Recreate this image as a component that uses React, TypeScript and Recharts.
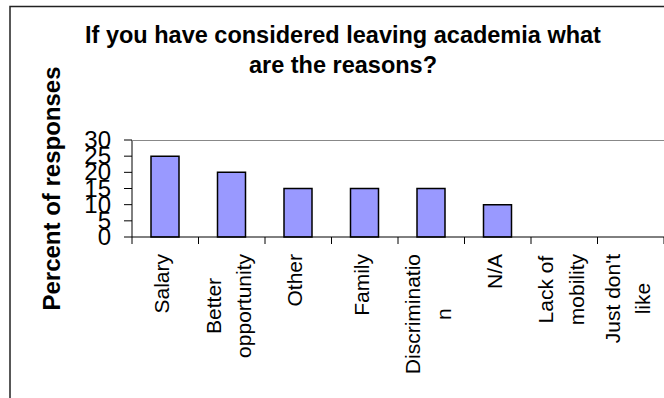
import React from "react";
import { BarChart, Bar, XAxis, YAxis } from "recharts";

const categories = [
  "Salary",
  "Better opportunity",
  "Other",
  "Family",
  "Discrimination",
  "N/A",
  "Lack of mobility",
  "Just don't like",
];

// wrapped the way the original chart wraps them
const tickLabelLines = [
  ["Salary"],
  ["Better", "opportunity"],
  ["Other"],
  ["Family"],
  ["Discriminatio", "n"],
  ["N/A"],
  ["Lack of", "mobility"],
  ["Just don't", "like"],
];

const percentValues = [25, 20, 15, 15, 15, 10, 0, 0];

const yTicks = [0, 5, 10, 15, 20, 25, 30];

const titleLines = ["If you have considered leaving academia what", "are the reasons?"];
const yTitle = "Percent of responses";

const data = categories.map((name, i) => ({ name, value: percentValues[i] }));

const W = 664;
const H = 398;
const PLOT_LEFT = 132;
const PLOT_TOP = 140;
const PLOT_BOTTOM = 237;
const PLOT_W = W - PLOT_LEFT;
const BAND = PLOT_W / categories.length;
const LABEL_TOP = 254;
const FONT = "'Liberation Sans', Arial, sans-serif";
const LABEL_SIZE = 21;

let ctx: CanvasRenderingContext2D | null = null;
const measure = (text: string) => {
  if (!ctx) ctx = document.createElement("canvas").getContext("2d");
  if (!ctx) return text.length * LABEL_SIZE * 0.5;
  ctx.font = `${LABEL_SIZE}px 'Liberation Sans'`;
  return ctx.measureText(text).width;
};

const CategoryTick = (props: any) => {
  const { x, payload } = props;
  const idx =
    typeof props.index === "number" ? props.index : categories.indexOf(payload.value);
  const lines = tickLabelLines[idx] ?? [String(payload.value)];
  const longest = Math.max(...lines.map((l) => measure(l)));
  const half = BAND / 2;
  return (
    <g>
      <line x1={x - half} x2={x - half} y1={PLOT_BOTTOM} y2={PLOT_BOTTOM + 7} stroke="#000" />
      {idx === categories.length - 1 && (
        <line x1={x + half} x2={x + half} y1={PLOT_BOTTOM} y2={PLOT_BOTTOM + 7} stroke="#000" />
      )}
      <g transform={`translate(${x},${LABEL_TOP}) rotate(-90)`}>
        {lines.map((ln, i) => (
          <text
            key={i}
            x={-longest / 2}
            y={4 + (i - (lines.length - 1) / 2) * 30.5}
            textAnchor="middle"
            fontSize={LABEL_SIZE}
            fontFamily={FONT}
            fill="#000"
          >
            {ln}
          </text>
        ))}
      </g>
    </g>
  );
};

const ValueTick = (props: any) => {
  const { y, payload } = props;
  return (
    <text x={111} y={y + 8} textAnchor="end" fontSize={24} fontFamily={FONT} fill="#000">
      {payload.value}
    </text>
  );
};

export default function App() {
  return (
    <div style={{ position: "absolute", left: 0, top: 0, width: W, height: H, background: "#fff" }}>
      <BarChart
        width={W}
        height={H}
        data={data}
        margin={{ top: PLOT_TOP, left: 32, right: 0, bottom: 11 }}
        barSize={28}
      >
        <XAxis
          dataKey="name"
          interval={0}
          height={H - PLOT_BOTTOM - 11}
          tickLine={false}
          tickSize={0}
          tickMargin={0}
          axisLine={{ stroke: "#000" }}
          tick={<CategoryTick />}
        />
        <YAxis
          width={100}
          domain={[0, 30]}
          ticks={yTicks}
          interval={0}
          tickSize={8}
          tickLine={{ stroke: "#000" }}
          axisLine={{ stroke: "#000" }}
          tick={<ValueTick />}
        />
        <Bar
          dataKey="value"
          fill="#9999FF"
          stroke="#000"
          strokeWidth={1.5}
          isAnimationActive={false}
        />
      </BarChart>
      <svg
        width={W}
        height={H}
        style={{ position: "absolute", left: 0, top: 0, pointerEvents: "none" }}
      >
        <rect x={10} y={6.5} width={W + 20} height={H + 20} fill="none" stroke="#222" strokeWidth={1.5} />
        <line x1={PLOT_LEFT} x2={W} y1={PLOT_TOP + 0.5} y2={PLOT_TOP + 0.5} stroke="#888" />
        {titleLines.map((t, i) => (
          <text
            key={i}
            x={343}
            y={43 + i * 29.5}
            textAnchor="middle"
            fontSize={23.5}
            fontWeight="bold"
            fontFamily={FONT}
            fill="#000"
          >
            {t}
          </text>
        ))}
        <text
          transform={`translate(59.5,${(PLOT_TOP + PLOT_BOTTOM) / 2}) rotate(-90)`}
          textAnchor="middle"
          fontSize={24}
          fontWeight="bold"
          fontFamily={FONT}
          fill="#000"
        >
          {yTitle}
        </text>
      </svg>
    </div>
  );
}
